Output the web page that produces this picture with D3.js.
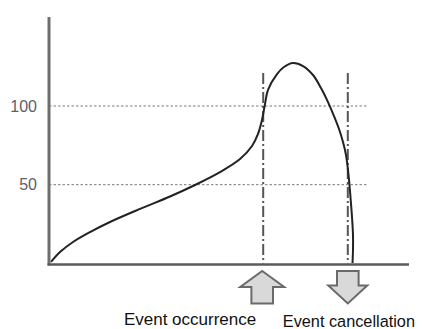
<!DOCTYPE html>
<html>
<head>
<meta charset="utf-8">
<script src="https://cdn.jsdelivr.net/npm/d3@7"></script>
<style>
html,body{margin:0;padding:0;background:#fff;}
svg{display:block;}
</style>
</head>
<body>
<div id="chart"></div>
<script>
// ---- data ----
const tickValues = [50, 100];
const curveX = [0.67, 3.67, 8.0, 13.67, 20.33, 30.33, 40.33, 48.67, 57.0, 63.67, 67.67, 69.67, 71.0, 72.0, 73.0, 76.0, 78.33, 81.33, 84.67, 88.0, 90.67, 93.0, 95.0, 96.67, 98.0, 99.0, 99.67, 100.1, 100.57, 101.0, 101.33, 101.33, 101.17];
const curveY = [0.9, 7.2, 13.6, 19.9, 26.3, 34.6, 42.5, 49.8, 58.0, 66.3, 74.6, 82.3, 91.1, 101.3, 110.2, 120.3, 124.8, 127.3, 125.4, 119.7, 111.4, 102.5, 93.6, 85.4, 77.1, 68.9, 59.3, 51.1, 40.3, 29.5, 18.0, 8.5, 0.3];
const eventNames = ["Event occurrence", "Event cancellation"];
const eventX = [71.4, 99.6];
const eventDir = ["up", "down"];

// ---- layout ----
const W = 422, H = 329;
const svg = d3.select("#chart").append("svg").attr("width", W).attr("height", H);
const x = d3.scaleLinear().domain([0, 120]).range([49, 409]);
const y = d3.scaleLinear().domain([0, 100]).range([263.4, 106]);
const yTop = 156.5;
const gridEnd = 106;

// grid lines
svg.selectAll(".grid").data(tickValues).enter().append("line")
  .attr("x1", x(0)).attr("x2", x(gridEnd))
  .attr("y1", d => y(d)).attr("y2", d => y(d))
  .attr("stroke", "#7a7a7a").attr("stroke-width", 1).attr("stroke-dasharray", "2.5,2");

// y axis via d3 axis (labels only)
const yAxis = d3.axisLeft(y).tickValues(tickValues).tickSize(0).tickPadding(12);
const gy = svg.append("g").attr("transform", `translate(${x(0)},0)`).call(yAxis);
gy.select(".domain").remove();
gy.selectAll("text").attr("font-family", "Liberation Sans, Arial, sans-serif")
  .attr("font-size", 16).attr("fill", "#5c6068");

// event vertical dash-dot lines
svg.selectAll(".evline").data(eventX).enter().append("line")
  .attr("x1", d => x(d)).attr("x2", d => x(d))
  .attr("y1", y(121)).attr("y2", y(0))
  .attr("stroke", "#555").attr("stroke-width", 2).attr("stroke-dasharray", "11,3,2,3");

// curve
const pts = curveX.map((v, i) => [x(v), y(curveY[i])]);
svg.append("path").datum(pts)
  .attr("d", d3.line().curve(d3.curveCatmullRom.alpha(0.5)))
  .attr("fill", "none").attr("stroke", "#222").attr("stroke-width", 2);

// axes lines
svg.append("line").attr("x1", x(0)).attr("x2", x(0)).attr("y1", y(yTop)).attr("y2", y(0) + 2)
  .attr("stroke", "#6e6e6e").attr("stroke-width", 3);
svg.append("line").attr("x1", x(0) - 1.5).attr("x2", x(120)).attr("y1", y(0) + 1).attr("y2", y(0) + 1)
  .attr("stroke", "#5a5a5a").attr("stroke-width", 2.5);

// arrows
function arrowPath(cx, dir) {
  const top = 271, bot = 303.5, headW = dir === "up" ? 22 : 19.5, shaftW = 10.8, headH = 16;
  if (dir === "up") {
    return `M${cx},${top} L${cx + headW},${top + headH} L${cx + shaftW},${top + headH} L${cx + shaftW},${bot} L${cx - shaftW},${bot} L${cx - shaftW},${top + headH} L${cx - headW},${top + headH} Z`;
  }
  return `M${cx - shaftW},${top} L${cx + shaftW},${top} L${cx + shaftW},${bot - headH - 2} L${cx + headW},${bot - headH - 2} L${cx},${bot} L${cx - headW},${bot - headH - 2} L${cx - shaftW},${bot - headH - 2} Z`;
}
svg.selectAll(".arrow").data(eventX).enter().append("path")
  .attr("d", (d, i) => arrowPath(x(d) + (i === 0 ? -1 : 0), eventDir[i]))
  .attr("fill", "#d9d9d9").attr("stroke", "#6a6a6a").attr("stroke-width", 2).attr("stroke-linejoin", "miter");

// labels
svg.selectAll(".evlabel").data(eventNames).enter().append("text")
  .attr("x", (d, i) => i === 0 ? x(eventX[i]) - 7 : x(eventX[i]) - 65)
  .attr("y", (d, i) => i === 0 ? 325 : 327)
  .attr("text-anchor", (d, i) => i === 0 ? "end" : "start")
  .attr("font-family", "Liberation Sans, Arial, sans-serif").attr("font-size", (d, i) => i === 0 ? 17 : 16.3)
  .attr("fill", "#111").text(d => d);
</script>
</body>
</html>
